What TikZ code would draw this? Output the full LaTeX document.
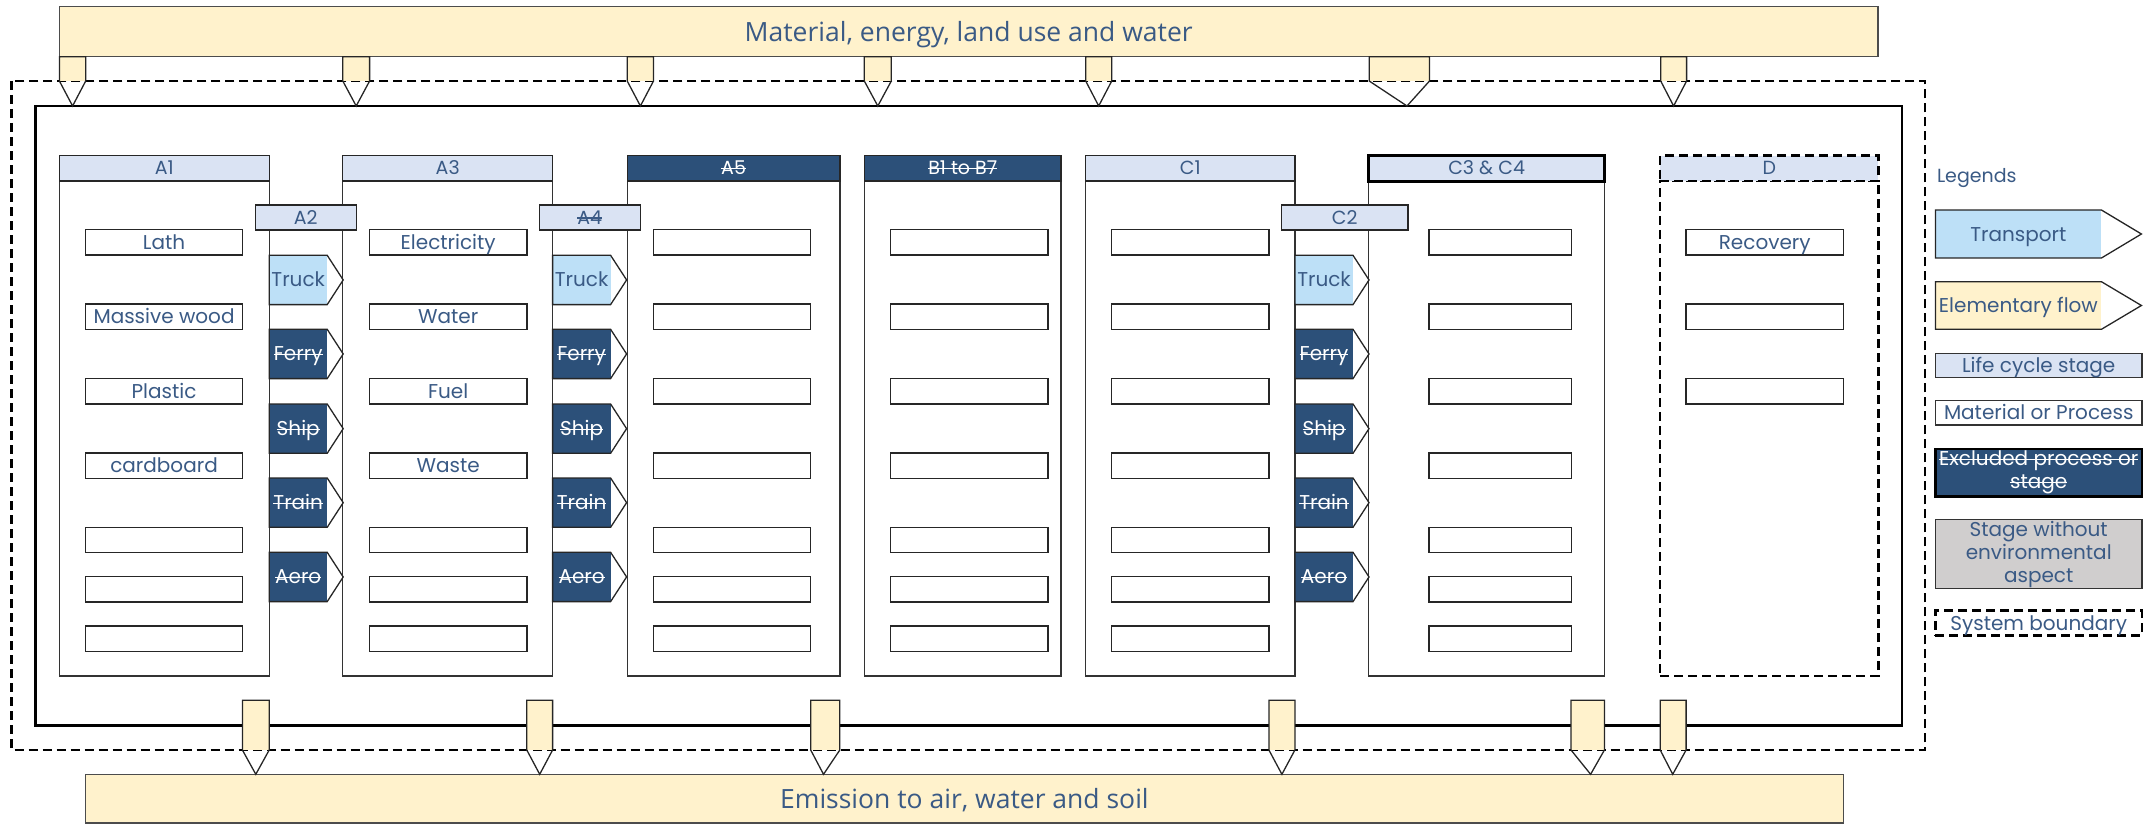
\documentclass[tikz,border=0pt]{standalone}
\usepackage{fontspec}
\setmainfont{Poppins}
\newfontfamily\barfamily{Open Sans}
\definecolor{txt}{HTML}{3A5A85}
\definecolor{navy}{HTML}{2C5079}
\definecolor{lav}{HTML}{DAE3F3}
\definecolor{cream}{HTML}{FFF2CC}
\definecolor{lblue}{HTML}{BDE0F7}
\definecolor{gry}{HTML}{D0CECE}
\newcommand{\lbl}{\fontsize{20}{22.5}\selectfont}
\newcommand{\hfnt}{\fontsize{19}{22}\selectfont}
\newcommand{\barfnt}{\barfamily\fontsize{26.5}{30}\selectfont}
\newsavebox{\strkbox}
\newcommand{\strk}[1]{\sbox{\strkbox}{#1}\rlap{\raisebox{0.28em}{\rule{\wd\strkbox}{1.2pt}}}\usebox{\strkbox}}
% transport arrow: name, left x, top y, fill, text colour, label
\newcommand{\mytrans}[6]{%
  \node[trrect, fill=#4, text=#5] (#1) at (#2+29,#3+24.65) {#6};
  \draw[thinl] (#1.north west) -- (#1.north east) -- ([xshift=16pt]#1.east) -- (#1.south east) -- (#1.south west) -- cycle;
}
% elementary flow tab: name, xl, xr, ytop, ymid, xtip, ytip
\newcommand{\myflow}[7]{%
  \fill[cream] (#2,#4) rectangle (#3,#5);
  \coordinate (#1) at (#6,#7);
  \draw[thinl] (#3,#4) -- (#2,#4) -- (#2,#5) -- (#1) -- (#3,#5) -- cycle;
}
\begin{document}
\begin{tikzpicture}[x=1pt,y=-1pt,
  every node/.style={font=\lbl, text=txt, inner sep=0pt, outer sep=0pt},
  thinl/.style={draw=black!85, line width=1.3pt},
  bnd/.style={draw=black, line width=2.5pt, dash pattern=on 9pt off 5pt},
  bar/.style={draw=black!70, line width=1.3pt, fill=cream, font=\barfnt, text height=20pt, text depth=1pt},
  mat/.style={draw=black!85, line width=1.3pt, fill=white, minimum width=157.5pt, minimum height=25.4pt, text height=16pt, text depth=2pt},
  hdr/.style={draw=black!85, line width=1.3pt, fill=lav, minimum height=25.5pt, font=\hfnt, text height=15pt, text depth=2pt},
  navyhdr/.style={hdr, fill=navy, text=white},
  colbody/.style={draw=black!80, line width=1.3pt, minimum height=495pt},
  trrect/.style={minimum width=58pt, minimum height=49.3pt, text height=16pt, text depth=2pt},
  legbox/.style={draw=black!80, line width=1.3pt, minimum width=206.6pt, align=center}
]
\useasboundingbox (0,0) rectangle (2149,824);

% system boundary and product system
\draw[bnd] (11.6,81) rectangle (1925,750);
\draw[line width=2.5pt] (35.3,106) rectangle (1901.8,725.3);

% input / output bars
\node[bar, minimum width=1818.6pt, minimum height=50pt] (topbar) at (968.7,31.7) {Material, energy, land use and water};
\node[bar, minimum width=1758.2pt, minimum height=48.7pt] (botbar) at (964.4,798.65) {Emission to air, water and soil};

% column bodies
\node[colbody, minimum width=209.8pt] (cA1) at (164.3,428.5) {};
\node[colbody, minimum width=209.8pt] (cA3) at (447.7,428.5) {};
\node[colbody, minimum width=212.8pt] (cA5) at (733.6,428.5) {};
\node[colbody, minimum width=196.3pt] (cB) at (962.75,428.5) {};
\node[colbody, minimum width=209.5pt] (cC1) at (1190.25,428.5) {};
\node[colbody, minimum width=235.6pt] (cC34) at (1486.6,428.5) {};
\node[colbody, minimum width=218.1pt, bnd] (cD) at (1769.25,428.5) {};

% column headers
\node[hdr, minimum width=209.8pt] (hA1) at (164.3,168.25) {A1};
\node[hdr, minimum width=209.8pt] (hA3) at (447.7,168.25) {A3};
\node[navyhdr, minimum width=212.8pt] (hA5) at (733.6,168.25) {\strk{A5}};
\node[navyhdr, minimum width=196.3pt] (hB) at (962.75,168.25) {\strk{B1 to B7}};
\node[hdr, minimum width=209.5pt] (hC1) at (1190.25,168.25) {C1};
\node[hdr, minimum width=235.6pt, draw=black, line width=3pt] (hC34) at (1486.6,168.25) {C3 \& C4};
\node[hdr, minimum width=218.1pt, bnd] (hD) at (1769.25,168.25) {D};

% materials / processes
\node[mat] (a1m1) at (164.05,242.4) {Lath};
\node[mat] (a1m2) at (164.05,316.7) {Massive wood};
\node[mat] (a1m3) at (164.05,391.2) {Plastic};
\node[mat] (a1m4) at (164.05,465.7) {cardboard};
\node[mat] (a1m5) at (164.05,540) {};
\node[mat] (a1m6) at (164.05,589.4) {};
\node[mat] (a1m7) at (164.05,638.7) {};
\node[mat] (a3m1) at (448.2,242.4) {Electricity};
\node[mat] (a3m2) at (448.2,316.7) {Water};
\node[mat] (a3m3) at (448.2,391.2) {Fuel};
\node[mat] (a3m4) at (448.2,465.7) {Waste};
\node[mat] (a3m5) at (448.2,540) {};
\node[mat] (a3m6) at (448.2,589.4) {};
\node[mat] (a3m7) at (448.2,638.7) {};
\foreach \n/\cx/\mw in {a5/731.75/156.9, b/969.25/157.3, c1/1190.05/157.7, cc/1500.15/142.3} {
  \foreach \r/\cy in {1/242.4,2/316.7,3/391.2,4/465.7,5/540,6/589.4,7/638.7}
    \node[mat, minimum width=\mw pt] (\n m\r) at (\cx,\cy) {};
}
\node[mat, minimum width=157.2pt] (dm1) at (1764.7,242.4) {Recovery};
\node[mat, minimum width=157.2pt] (dm2) at (1764.7,316.7) {};
\node[mat, minimum width=157.2pt] (dm3) at (1764.7,391.2) {};

% transport
\mytrans{a2t1}{269.2}{255.3}{lblue}{txt}{Truck}
\mytrans{a2t2}{269.2}{329.3}{navy}{white}{\strk{Ferry}}
\mytrans{a2t3}{269.2}{404}{navy}{white}{\strk{Ship}}
\mytrans{a2t4}{269.2}{478}{navy}{white}{\strk{Train}}
\mytrans{a2t5}{269.2}{552.3}{navy}{white}{\strk{Aero}}
\mytrans{a4t1}{552.6}{255.3}{lblue}{txt}{Truck}
\mytrans{a4t2}{552.6}{329.3}{navy}{white}{\strk{Ferry}}
\mytrans{a4t3}{552.6}{404}{navy}{white}{\strk{Ship}}
\mytrans{a4t4}{552.6}{478}{navy}{white}{\strk{Train}}
\mytrans{a4t5}{552.6}{552.3}{navy}{white}{\strk{Aero}}
\mytrans{c2t1}{1295}{255.3}{lblue}{txt}{Truck}
\mytrans{c2t2}{1295}{329.3}{navy}{white}{\strk{Ferry}}
\mytrans{c2t3}{1295}{404}{navy}{white}{\strk{Ship}}
\mytrans{c2t4}{1295}{478}{navy}{white}{\strk{Train}}
\mytrans{c2t5}{1295}{552.3}{navy}{white}{\strk{Aero}}

% transport stage labels
\node[hdr, minimum width=100.9pt, minimum height=25pt] (lA2) at (305.75,217.5) {A2};
\node[hdr, minimum width=101pt, minimum height=25pt] (lA4) at (589.8,217.5) {\strk{A4}};
\node[hdr, minimum width=126.3pt, minimum height=25pt, line width=1.8pt] (lC2) at (1344.65,217.5) {C2};

% elementary flows in
\myflow{in1}{59.4}{85.7}{56.7}{81}{72.6}{106}
\myflow{in2}{342.8}{369.6}{56.7}{81}{356.2}{106}
\myflow{in3}{627.2}{653.5}{56.7}{81}{640.4}{106}
\myflow{in4}{864.3}{891.3}{56.7}{81}{877.8}{106}
\myflow{in5}{1085.7}{1111.7}{56.7}{81}{1098.7}{106}
\myflow{in6}{1369.2}{1429.5}{56.7}{81}{1407}{106}
\myflow{in7}{1660.7}{1686.6}{56.7}{81}{1673.6}{106}
% elementary flows out
\myflow{out1}{242.4}{269.2}{700.3}{750}{255.8}{774.3}
\myflow{out2}{526.8}{552.6}{700.3}{750}{539.7}{774.3}
\myflow{out3}{810.7}{839.8}{700.3}{750}{823.5}{774.3}
\myflow{out4}{1268.9}{1294.9}{700.3}{750}{1281.9}{774.3}
\myflow{out5}{1571}{1604.4}{700.3}{750}{1590.6}{774.3}
\myflow{out6}{1660.2}{1686.1}{700.3}{750}{1672.7}{774.3}

% legend
\node[anchor=base west, font=\hfnt] (legt) at (1937,182.7) {Legends};
\node[minimum width=166pt, minimum height=48pt, fill=lblue, text height=16pt, text depth=2pt] (lgtr) at (2018.4,234) {Transport};
\draw[thinl] (lgtr.north west) -- (lgtr.north east) -- ([xshift=40pt]lgtr.east) -- (lgtr.south east) -- (lgtr.south west) -- cycle;
\node[minimum width=166pt, minimum height=47.6pt, fill=cream, text height=16pt, text depth=2pt] (lgel) at (2018.4,305.5) {Elementary flow};
\draw[thinl] (lgel.north west) -- (lgel.north east) -- ([xshift=40pt]lgel.east) -- (lgel.south east) -- (lgel.south west) -- cycle;
\node[legbox, fill=lav, minimum height=24pt, text height=16pt, text depth=2pt] (lglc) at (2038.7,365.3) {Life cycle stage};
\node[legbox, fill=white, minimum height=24.3pt, text height=16pt, text depth=2pt] (lgmp) at (2038.7,412.85) {Material or Process};
\node[legbox, fill=navy, draw=black, line width=2.5pt, minimum height=47.5pt, text=white] (lgex) at (2038.7,472.5) {\strk{Excluded process or}\\\strk{stage}};
\node[legbox, fill=gry, minimum height=69.4pt, font=\fontsize{20}{23}\selectfont] (lgst) at (2038.7,554) {Stage without\\environmental\\aspect};
\node[legbox, bnd, minimum height=24.6pt, text height=16pt, text depth=2pt] (lgsb) at (2038.7,623) {System boundary};
\end{tikzpicture}
\end{document}
